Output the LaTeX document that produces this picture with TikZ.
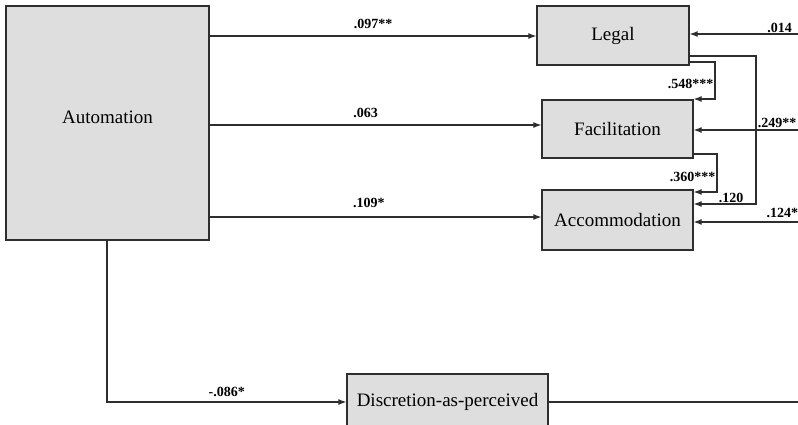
\documentclass[tikz,border=0pt]{standalone}
\usepackage{fontspec}
\setmainfont{Liberation Serif}
\usetikzlibrary{arrows.meta,calc}
\definecolor{boxgray}{HTML}{DEDEDE}
\definecolor{linegray}{HTML}{2E2E2E}
\newcommand{\boxfont}{\fontsize{19}{22}\selectfont}

\begin{document}
\begin{tikzpicture}[x=1pt,y=-1pt,
    var/.style={draw=linegray,line width=1.3pt,fill=boxgray,inner sep=0pt,font=\boxfont},
    link/.style={draw=linegray,line width=1.1pt},
    arr/.style={link,-{Latex[length=8pt,width=6pt]}},
    coef/.style={font=\bfseries\fontsize{14}{16}\selectfont,inner sep=1pt}]
    \useasboundingbox(0,0)rectangle(798,424);
    % variables
    \node[var,minimum width=203pt,minimum height=234pt](auto) at (107.5,123){};
    \node[font=\boxfont](autotext) at ($(auto)+(0,-6)$){Automation};
    \node[var,minimum width=152pt,minimum height=59pt](legal) at (613,35.5){Legal};
    \node[var,minimum width=151pt,minimum height=58pt](facil) at (617.5,129){Facilitation};
    \node[var,minimum width=151pt,minimum height=60pt](accom) at (617.5,220){Accommodation};
    \node[var,minimum width=201pt,minimum height=56pt](discr) at (447.5,402){Discretion-as-perceived};
    % free ends at the right edge
    \coordinate(inlegal) at (798,34);
    \coordinate(infacil) at (798,130);
    \coordinate(inaccom) at (798,222);
    \coordinate(outdiscr) at (798,402);
    % paths from automation
    \draw[arr](auto.east|-0,36)--(legal.west|-0,36) node[coef,above=6pt,pos=0.5]{.097**};
    \draw[arr](auto.east|-0,125)--(facil.west|-0,125) node[coef,above=6pt,pos=0.47]{.063};
    \draw[arr](auto.east|-0,217)--(accom.west|-0,217) node[coef,above=8pt,pos=0.48]{.109*};
    \draw[arr](auto.south-|107,0)|-(discr.west) node[coef,above=4pt,pos=0.75]{-.086*};
    % paths between the mediators
    \draw[arr](legal.east|-0,62)-|(715,99) node[coef,left,pos=0.8]{.548***}--(facil.east|-0,99);
    \draw[arr](facil.east|-0,154)-|(717,192) node[coef,left,pos=0.8]{.360***}--(accom.east|-0,192);
    \draw[arr](legal.east|-0,56)-|(756,204)--(accom.east|-0,204) node[coef,above=0pt,pos=0.4]{.120};
    % paths from the right
    \draw[arr](inlegal)--(inlegal-|legal.east) node[coef,above=0pt,pos=0.17]{.014};
    \draw[arr](infacil)--(infacil-|facil.east) node[coef,above=1pt,pos=0.2]{.249**};
    \draw[arr](inaccom)--(inaccom-|accom.east) node[coef,above=3pt,pos=0.15]{.124*};
    \draw[link](discr.east)--(outdiscr);
\end{tikzpicture}
\end{document}
